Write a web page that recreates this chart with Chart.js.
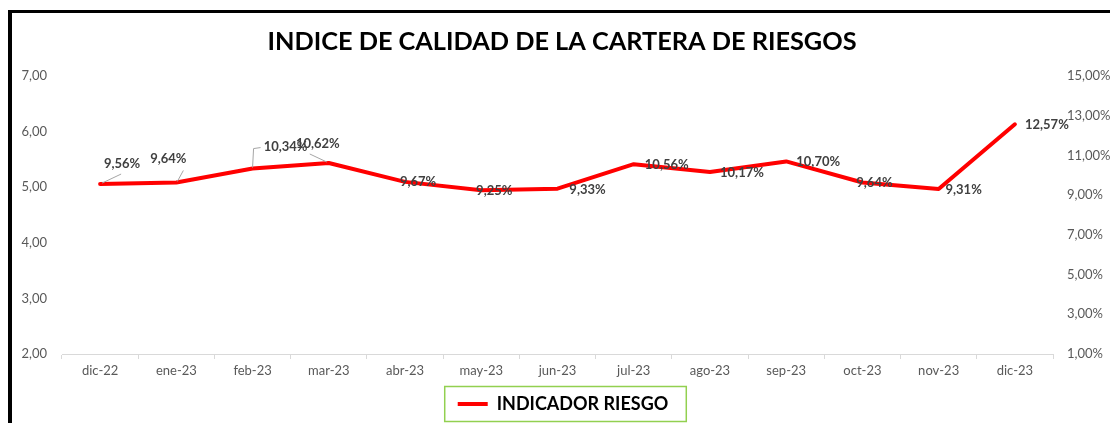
<!DOCTYPE html>
<html>
<head>
<meta charset="utf-8">
<script src="https://cdn.jsdelivr.net/npm/chart.js@4.4.1/dist/chart.umd.min.js"></script>
<style>
  html, body { margin: 0; padding: 0; background: #fff; }
  #wrap { position: relative; width: 1110px; height: 423px; }
</style>
</head>
<body>
<div id="wrap"><canvas id="riskChart" width="1110" height="423"></canvas></div>
<script>
// datos del gráfico
const months = ["dic-22", "ene-23", "feb-23", "mar-23", "abr-23", "may-23", "jun-23",
                "jul-23", "ago-23", "sep-23", "oct-23", "nov-23", "dic-23"];
const riskIndex = [9.56, 9.64, 10.34, 10.62, 9.67, 9.25, 9.33, 10.56, 10.17, 10.70, 9.64, 9.31, 12.57];
const leftTicks = [2, 3, 4, 5, 6, 7];
const rightTicks = [1, 3, 5, 7, 9, 11, 13, 15];

const FONT = "Lato, 'Open Sans', sans-serif";
const LEGEND_SHIFT = 8;
const TITLE_SHIFT = 7;

// where each value label sits relative to its point (px)
const labelOffsets = [
  [22, -20], [-8, -24], [33, -22], [-11, -19], [13, 0], [13, 1], [30, 1],
  [33, 1], [32, 1], [32, 0], [12, 0], [25, 1], [32, 1]
];
// small grey leader lines, relative to the point
const leaderLines = {
  0: [[2, -1], [21, -10]],
  1: [[1, -1], [7, -12]],
  2: [[0, -1], [1, -20], [8, -21]],
  3: [[-2, -1], [-19, -9]]
};

const fmt = (v, d) => v.toFixed(d).replace(".", ",");

const framePlugin = {
  id: "frame",
  afterLayout(chart) {
    // title and legend sit a little right of centre in the original
    chart.legend.left += LEGEND_SHIFT;
    chart.legend.right += LEGEND_SHIFT;
    chart.titleBlock.left += TITLE_SHIFT;
    chart.titleBlock.right += TITLE_SHIFT;
  },
  beforeDraw(chart) {
    const { ctx, width, height } = chart;
    ctx.save();
    ctx.fillStyle = "#fff";
    ctx.fillRect(0, 0, width, height);
    ctx.fillStyle = "#000";
    ctx.fillRect(8, 10, width - 8, 3);
    ctx.fillRect(8, 10, 4, height - 10);
    ctx.restore();
  },
  afterDraw(chart) {
    const hb = chart.legend && chart.legend.legendHitBoxes && chart.legend.legendHitBoxes[0];
    if (!hb) return;
    const { ctx } = chart;
    const cy = hb.top + hb.height / 2;
    ctx.save();
    ctx.strokeStyle = "#92d050";
    ctx.lineWidth = 1.5;
    ctx.strokeRect(hb.left + LEGEND_SHIFT - 21, cy - 17.5, hb.width + 31, 35);
    ctx.restore();
  }
};

const labelPlugin = {
  id: "pointLabels",
  afterDatasetsDraw(chart) {
    const { ctx } = chart;
    const meta = chart.getDatasetMeta(0);
    ctx.save();
    ctx.font = "bold 13px " + FONT;
    ctx.fillStyle = "#404040";
    ctx.textAlign = "center";
    ctx.textBaseline = "middle";
    meta.data.forEach((pt, i) => {
      const lead = leaderLines[i];
      if (lead) {
        ctx.strokeStyle = "#a6a6a6";
        ctx.lineWidth = 1;
        ctx.beginPath();
        lead.forEach(([lx, ly], k) => {
          if (k === 0) ctx.moveTo(pt.x + lx, pt.y + ly);
          else ctx.lineTo(pt.x + lx, pt.y + ly);
        });
        ctx.stroke();
      }
      const [dx, dy] = labelOffsets[i];
      ctx.fillText(fmt(riskIndex[i], 2) + "%", pt.x + dx, pt.y + dy);
    });
    ctx.restore();
  }
};

const tickFont = { family: FONT, size: 13 };

new Chart(document.getElementById("riskChart"), {
  type: "line",
  data: {
    labels: months,
    datasets: [{
      label: "INDICADOR RIESGO",
      data: riskIndex,
      yAxisID: "yRight",
      borderColor: "#ff0000",
      backgroundColor: "#ff0000",
      borderWidth: 4,
      borderCapStyle: "round",
      borderJoinStyle: "round",
      pointRadius: 0,
      tension: 0,
    }],
  },
  options: {
    responsive: false,
    animation: false,
    layout: { padding: { top: 12, left: 0, right: 0, bottom: 0 } },
    plugins: {
      title: {
        display: true,
        text: "INDICE DE CALIDAD DE LA CARTERA DE RIESGOS",
        color: "#000",
        font: { family: FONT, size: 25.3, weight: "bold" },
        padding: { top: 15, bottom: 18.7 },
      },
      legend: {
        position: "bottom",
        labels: {
          boxWidth: 30,
          boxHeight: 4,
          padding: 16,
          color: "#000",
          font: { family: FONT, size: 18, weight: "bold" },
          generateLabels: (chart) =>
            Chart.defaults.plugins.legend.labels.generateLabels(chart).map((l) => ({ ...l, lineWidth: 0 })),
        },
      },
      tooltip: { enabled: false },
    },
    scales: {
      x: {
        type: "category",
        offset: true,
        grid: { display: true, drawOnChartArea: false, drawTicks: true, tickLength: 5, color: "#d9d9d9", offset: true },
        border: { display: true, color: "#d9d9d9" },
        ticks: { color: "#595959", font: tickFont, padding: 4, maxRotation: 0, autoSkip: false },
        afterFit: (axis) => { axis.height = 25; },
      },
      yLeft: {
        position: "left",
        min: 2,
        max: 7,
        grid: { display: false, drawTicks: false },
        border: { display: false },
        afterBuildTicks: (axis) => { axis.ticks = leftTicks.map((v) => ({ value: v })); },
        ticks: { color: "#595959", font: tickFont, padding: 15, callback: (v) => fmt(v, 2) },
        afterFit: (axis) => { axis.width = 62; },
      },
      yRight: {
        position: "right",
        min: 1,
        max: 15,
        grid: { display: false, drawTicks: false },
        border: { display: false },
        afterBuildTicks: (axis) => { axis.ticks = rightTicks.map((v) => ({ value: v })); },
        ticks: { color: "#595959", font: tickFont, padding: 14, callback: (v) => fmt(v, 2) + "%" },
        afterFit: (axis) => { axis.width = 57; },
      },
    },
  },
  plugins: [framePlugin, labelPlugin],
});
</script>
</body>
</html>
